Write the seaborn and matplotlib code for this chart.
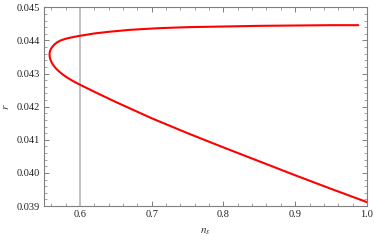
import matplotlib
matplotlib.use("Agg")
import matplotlib.pyplot as plt
import seaborn as sns
import pandas as pd
from matplotlib.ticker import MultipleLocator

# Data (parametric curve, each branch ordered from tip outward)
n_upper = [0.5576, 0.5577, 0.5581, 0.5590, 0.5602, 0.5620, 0.5645, 0.5680, 0.5730, 0.5800,
           0.5900, 0.6000, 0.6200, 0.6400, 0.6700, 0.7100, 0.7500, 0.8000, 0.8500,
           0.9000, 0.9500, 0.9880]
r_upper = [0.04357, 0.04362, 0.04367, 0.04372, 0.04377, 0.04382, 0.04388, 0.04394, 0.04400,
           0.04405, 0.04410, 0.04414, 0.04421, 0.04426, 0.04432, 0.04437, 0.04440, 0.04442,
           0.04444, 0.04445, 0.04446, 0.04446]
n_lower = [0.5576, 0.5577, 0.5581, 0.5588, 0.5597, 0.5622, 0.5658, 0.5705, 0.5760, 0.5828,
           0.5905, 0.5993, 0.6200, 0.6500, 0.7000, 0.7500, 0.8000, 0.8500, 0.9000,
           0.9500, 1.0000]
r_lower = [0.04357, 0.04352, 0.04347, 0.04342, 0.04337, 0.04327, 0.04317, 0.04307, 0.04297,
           0.04287, 0.04277, 0.04267, 0.04245, 0.04214, 0.04165, 0.04120, 0.04077, 0.04035,
           0.03993, 0.03952, 0.03912]
vline_x = 0.6
x_ticks = [0.6, 0.7, 0.8, 0.9, 1.0]
x_ticklabels = ["0.6", "0.7", "0.8", "0.9", "1.0"]
y_ticks = [0.039, 0.040, 0.041, 0.042, 0.043, 0.044, 0.045]
y_ticklabels = ["0.039", "0.040", "0.041", "0.042", "0.043", "0.044", "0.045"]

n_all = list(reversed(n_upper)) + n_lower[1:]
r_all = list(reversed(r_upper)) + r_lower[1:]
df = pd.DataFrame({"n_s": n_all, "r": r_all})

sns.set_theme(style="ticks")
plt.rcParams["font.family"] = ["Liberation Serif", "DejaVu Serif"]
plt.rcParams["mathtext.fontset"] = "stix"

fig = plt.figure(figsize=(3.74, 2.43), dpi=100)
ax = fig.add_axes([0.118, 0.152, 0.863, 0.818])

ax.axvline(vline_x, color="#c2c2c2", lw=1.4, zorder=1)
sns.lineplot(data=df, x="n_s", y="r", sort=False, estimator=None, color="#ff0000",
             lw=1.5, ax=ax, zorder=3)
for line in ax.lines:
    line.set_solid_joinstyle("round")

ax.set_xlim(0.55, 1.0)
ax.set_ylim(0.039, 0.045)
ax.set_xticks(x_ticks)
ax.set_xticklabels(x_ticklabels)
ax.set_yticks(y_ticks)
ax.set_yticklabels(y_ticklabels)
ax.xaxis.set_minor_locator(MultipleLocator(0.02))
ax.yaxis.set_minor_locator(MultipleLocator(0.0002))

frame_col = "#7f7f7f"
for s in ax.spines.values():
    s.set_color(frame_col)
    s.set_linewidth(0.8)
ax.tick_params(which="both", direction="in", top=True, right=True, colors=frame_col,
               labelcolor="#222222", labelsize=7.5, pad=3)
ax.tick_params(which="major", length=3.5, width=0.7)
ax.tick_params(which="minor", length=2, width=0.5)

ax.set_xlabel(r"$n_s$", fontsize=8, color="#333333", labelpad=5)
ax.set_ylabel(r"$r$", fontsize=8, color="#333333", labelpad=4)

fig.savefig("out.png", dpi=100)
